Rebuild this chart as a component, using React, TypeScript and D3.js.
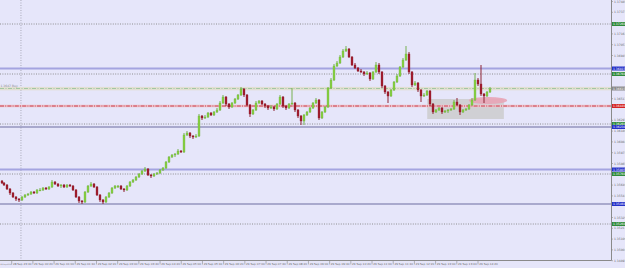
import React from "react";
import * as d3 from "d3";

const W = 625;
const H = 268;

// OHLC (EURUSD M5, 29 Sep 2011)
const opens = [1.3569,1.3567,1.3565,1.3561,1.3557,1.3553,1.3551,1.3550,1.3553,1.3555,
1.3556,1.3558,1.3557,1.3560,1.3560,1.3562,1.3561,1.3563,1.3568,1.3566,
1.3564,1.3565,1.3563,1.3565,1.3564,1.3560,1.3553,1.3549,1.3548,1.3558,
1.3564,1.3566,1.3563,1.3555,1.3550,1.3548,1.3553,1.3557,1.3562,1.3564,
1.3564,1.3561,1.3560,1.3564,1.3568,1.3570,1.3573,1.3576,1.3579,1.3581,
1.3575,1.3574,1.3576,1.3577,1.3580,1.3582,1.3588,1.3593,1.3595,1.3596,
1.3599,1.3598,1.3615,1.3617,1.3614,1.3613,1.3614,1.3634,1.3632,1.3633,
1.3637,1.3635,1.3638,1.3640,1.3647,1.3653,1.3646,1.3643,1.3647,1.3651,
1.3655,1.3661,1.3655,1.3645,1.3636,1.3640,1.3647,1.3649,1.3646,1.3644,
1.3642,1.3643,1.3641,1.3646,1.3653,1.3644,1.3642,1.3646,1.3647,1.3640,
1.3634,1.3629,1.3635,1.3638,1.3642,1.3647,1.3650,1.3632,1.3638,1.3643,
1.3662,1.3670,1.3684,1.3687,1.3693,1.3699,1.3701,1.3693,1.3685,1.3682,
1.3679,1.3678,1.3676,1.3677,1.3671,1.3678,1.3685,1.3678,1.3664,1.3658,
1.3654,1.3660,1.3668,1.3674,1.3683,1.3690,1.3696,1.3678,1.3665,1.3667,
1.3660,1.3654,1.3655,1.3659,1.3646,1.3638,1.3640,1.3642,1.3638,1.3639,
1.3640,1.3641,1.3648,1.3645,1.3638,1.3640,1.3641,1.3645,1.3650,1.3670,
1.3666,1.3656,1.3654,1.3658];

const highs = [1.3570,1.3568,1.3566,1.3562,1.3558,1.3554,1.3552,1.3554,1.3556,1.3557,
1.3559,1.3559,1.3561,1.3562,1.3563,1.3563,1.3564,1.3570,1.3569,1.3567,
1.3566,1.3566,1.3566,1.3566,1.3565,1.3561,1.3554,1.3550,1.3559,1.3565,
1.3568,1.3567,1.3564,1.3556,1.3551,1.3554,1.3558,1.3563,1.3565,1.3565,
1.3565,1.3562,1.3565,1.3569,1.3571,1.3574,1.3577,1.3580,1.3583,1.3582,
1.3576,1.3577,1.3578,1.3581,1.3583,1.3589,1.3594,1.3596,1.3597,1.3601,
1.3600,1.3617,1.3619,1.3618,1.3615,1.3616,1.3636,1.3635,1.3635,1.3638,
1.3638,1.3639,1.3642,1.3649,1.3655,1.3654,1.3647,1.3648,1.3652,1.3656,
1.3663,1.3662,1.3656,1.3646,1.3641,1.3649,1.3650,1.3650,1.3647,1.3645,
1.3645,1.3644,1.3647,1.3655,1.3654,1.3645,1.3647,1.3662,1.3648,1.3641,
1.3635,1.3636,1.3639,1.3643,1.3648,1.3652,1.3651,1.3639,1.3644,1.3663,
1.3672,1.3686,1.3689,1.3695,1.3701,1.3704,1.3702,1.3694,1.3687,1.3683,
1.3681,1.3679,1.3679,1.3678,1.3679,1.3688,1.3687,1.3679,1.3665,1.3659,
1.3661,1.3669,1.3676,1.3684,1.3692,1.3704,1.3698,1.3679,1.3669,1.3668,
1.3661,1.3657,1.3660,1.3660,1.3647,1.3641,1.3643,1.3643,1.3640,1.3641,
1.3642,1.3650,1.3652,1.3646,1.3641,1.3642,1.3646,1.3652,1.3677,1.3672,
1.3685,1.3657,1.3659,1.3663];

const lows = [1.3566,1.3564,1.3560,1.3555,1.3552,1.3549,1.3548,1.3549,1.3552,1.3554,
1.3555,1.3556,1.3556,1.3559,1.3559,1.3560,1.3560,1.3562,1.3565,1.3563,
1.3562,1.3562,1.3562,1.3563,1.3559,1.3552,1.3547,1.3546,1.3547,1.3557,
1.3563,1.3562,1.3554,1.3548,1.3546,1.3547,1.3552,1.3556,1.3561,1.3562,
1.3560,1.3558,1.3559,1.3563,1.3567,1.3569,1.3572,1.3575,1.3578,1.3574,
1.3572,1.3573,1.3575,1.3576,1.3579,1.3581,1.3587,1.3592,1.3593,1.3595,
1.3597,1.3597,1.3614,1.3612,1.3611,1.3612,1.3613,1.3630,1.3631,1.3632,
1.3634,1.3634,1.3637,1.3639,1.3646,1.3644,1.3641,1.3642,1.3646,1.3650,
1.3654,1.3653,1.3644,1.3633,1.3635,1.3639,1.3646,1.3645,1.3642,1.3640,
1.3641,1.3639,1.3640,1.3645,1.3642,1.3640,1.3641,1.3645,1.3638,1.3632,
1.3625,1.3625,1.3634,1.3637,1.3641,1.3646,1.3630,1.3631,1.3637,1.3642,
1.3661,1.3669,1.3683,1.3686,1.3692,1.3698,1.3692,1.3684,1.3681,1.3678,
1.3677,1.3674,1.3675,1.3669,1.3670,1.3677,1.3676,1.3662,1.3656,1.3647,
1.3653,1.3659,1.3667,1.3673,1.3682,1.3689,1.3676,1.3663,1.3664,1.3658,
1.3648,1.3653,1.3654,1.3644,1.3636,1.3637,1.3639,1.3636,1.3637,1.3637,
1.3639,1.3640,1.3644,1.3635,1.3637,1.3639,1.3640,1.3644,1.3649,1.3664,
1.3654,1.3647,1.3653,1.3657];

const closes = [1.3567,1.3565,1.3561,1.3557,1.3553,1.3551,1.3550,1.3553,1.3555,1.3556,
1.3558,1.3557,1.3560,1.3560,1.3562,1.3561,1.3563,1.3568,1.3566,1.3564,
1.3565,1.3563,1.3565,1.3564,1.3560,1.3553,1.3549,1.3548,1.3558,1.3564,
1.3566,1.3563,1.3555,1.3550,1.3548,1.3553,1.3557,1.3562,1.3564,1.3564,
1.3561,1.3560,1.3564,1.3568,1.3570,1.3573,1.3576,1.3579,1.3581,1.3575,
1.3574,1.3576,1.3577,1.3580,1.3582,1.3588,1.3593,1.3595,1.3596,1.3599,
1.3598,1.3615,1.3617,1.3614,1.3613,1.3614,1.3634,1.3632,1.3633,1.3637,
1.3635,1.3638,1.3640,1.3647,1.3653,1.3646,1.3643,1.3647,1.3651,1.3655,
1.3661,1.3655,1.3645,1.3636,1.3640,1.3647,1.3649,1.3646,1.3644,1.3642,
1.3643,1.3641,1.3646,1.3653,1.3644,1.3642,1.3646,1.3647,1.3640,1.3634,
1.3629,1.3635,1.3638,1.3642,1.3647,1.3650,1.3632,1.3638,1.3643,1.3662,
1.3670,1.3684,1.3687,1.3693,1.3699,1.3701,1.3693,1.3685,1.3682,1.3679,
1.3678,1.3676,1.3677,1.3671,1.3678,1.3685,1.3678,1.3664,1.3658,1.3654,
1.3660,1.3668,1.3674,1.3683,1.3690,1.3696,1.3678,1.3665,1.3667,1.3660,
1.3654,1.3655,1.3659,1.3646,1.3638,1.3640,1.3642,1.3638,1.3639,1.3640,
1.3641,1.3648,1.3645,1.3638,1.3640,1.3641,1.3645,1.3650,1.3670,1.3666,
1.3656,1.3654,1.3658,1.3661];

// horizontal levels
const levelPrices = [1.3726, 1.36815, 1.3676, 1.36615, 1.3644, 1.3626, 1.3623, 1.35805, 1.3576, 1.3546, 1.3526];
const levelKinds = ["dot", "blue", "dot", "bid", "red", "dot", "dark", "blue", "dot", "dark", "dot"];

// price axis tick labels
const priceTicks = [1.37485,1.37377,1.37269,1.37161,1.37053,1.36945,1.36837,1.36729,1.36621,1.36513,
1.36405,1.36297,1.36189,1.36081,1.35973,1.35865,1.35757,1.35649,1.35541,1.35433,
1.35325,1.35217,1.35109,1.35001,1.34893];

// time axis labels
const timeLabels = ["28 Sep 23:40","29 Sep 00:20","29 Sep 01:00","29 Sep 01:40","29 Sep 02:20","29 Sep 03:00",
"29 Sep 03:40","29 Sep 04:20","29 Sep 05:00","29 Sep 05:40","29 Sep 06:20","29 Sep 07:00","29 Sep 07:40",
"29 Sep 08:20","29 Sep 09:00","29 Sep 09:40","29 Sep 10:20","29 Sep 11:00","29 Sep 11:40","29 Sep 12:20",
"29 Sep 13:00","29 Sep 13:40","29 Sep 14:20"];
const firstDateLabel = "28 Sep 2011";

// drawn objects (candle index / price)
const boxIdx = [142.2, 167.8];
const boxPrice = [1.3651, 1.3631];
const ellipseIdx = 162.5;
const ellipsePrice = 1.36495;
const separatorIdx = 6.5;

const tagColors: Record<string, string> = { dot: "#2f8a3a", blue: "#2430c8", bid: "#8a8a8a", red: "#d42424", dark: "#2430c8" };

export default function App() {
  const n = closes.length;
  const plotRight = 611.5;
  const plotBottom = 260.5;
  const x = d3.scaleLinear().domain([0, n - 1]).range([1.5, 489.5]);
  const y = d3.scaleLinear().domain([1.3750, 1.3490]).range([0, 260]);
  const tx = d3.scaleLinear().domain([0, timeLabels.length - 1]).range([11.7, 478]);
  const font = "'DejaVu Sans', sans-serif";

  const pxPerIdx = x(1) - x(0);
  const tagYs = levelPrices.map((p) => y(p));
  const visibleTicks = priceTicks.filter((p) => tagYs.every((ty) => Math.abs(ty - y(p)) > 3.6));

  return (
    <svg width={W} height={H} style={{ position: "fixed", left: 0, top: 0 }} xmlns="http://www.w3.org/2000/svg">
      <rect x={0} y={0} width={W} height={H} fill="#e6e6fa" />

      {/* background objects */}
      <rect x={x(boxIdx[0])} y={y(boxPrice[0])} width={x(boxIdx[1]) - x(boxIdx[0])} height={y(boxPrice[1]) - y(boxPrice[0])} fill="#d0d0d4" />
      <ellipse cx={x(ellipseIdx)} cy={y(ellipsePrice)} rx={pxPerIdx * 6.4} ry={3.4} fill="#e8a4b6" opacity={0.9} />

      {/* period separator */}
      <line x1={x(separatorIdx)} x2={x(separatorIdx)} y1={0} y2={plotBottom} stroke="#9a9aa8" strokeWidth={0.8} strokeDasharray="1,1.5" />

      {/* levels */}
      {levelPrices.map((p, i) => {
        const k = levelKinds[i];
        const yy = y(p);
        if (k === "dot") return <line key={i} x1={0} x2={plotRight} y1={yy} y2={yy} stroke="#858585" strokeWidth={0.9} strokeDasharray="1,1.4" />;
        if (k === "blue") return <line key={i} x1={0} x2={plotRight} y1={yy} y2={yy} stroke="#a4a4e0" strokeWidth={2} />;
        if (k === "dark") return <line key={i} x1={0} x2={plotRight} y1={yy} y2={yy} stroke="#6c6ca0" strokeWidth={1.2} />;
        if (k === "bid") return (
          <g key={i}>
            <rect x={0} y={yy - 1.6} width={plotRight} height={3.4} fill="#e2dfd2" />
            <line x1={0} x2={plotRight} y1={yy} y2={yy} stroke="#9cc49c" strokeWidth={0.9} strokeDasharray="4,1.5,1,1.5" />
          </g>
        );
        return (
          <g key={i}>
            <line x1={0} x2={plotRight} y1={yy} y2={yy} stroke="#efc4cc" strokeWidth={2.4} />
            <line x1={0} x2={plotRight} y1={yy} y2={yy} stroke="#c43040" strokeWidth={0.9} strokeDasharray="4,1.2,1,1.2" />
          </g>
        );
      })}

      <text x={0.5} y={y(1.36615) - 2} fontFamily={font} fontSize={3} fill="#8c8c8c">1.3647 Buy</text>

      {/* candles */}
      {closes.map((c, i) => {
        const o = opens[i];
        const up = c >= o;
        const col = up ? "#86cf45" : "#a01e30";
        const cx = Math.round(x(i));
        const top = y(Math.max(o, c));
        const bot = y(Math.min(o, c));
        return (
          <g key={i}>
            <line x1={cx} x2={cx} y1={y(highs[i])} y2={y(lows[i])} stroke={up ? "#76b050" : "#8e2434"} strokeWidth={1} />
            <rect x={cx - 1} y={top} width={2} height={Math.max(1, bot - top)} fill={col} stroke={up ? "#6cae34" : "#8a1626"} strokeWidth={0.3} />
          </g>
        );
      })}

      {/* price axis */}
      <line x1={plotRight} x2={plotRight} y1={0} y2={plotBottom} stroke="#8a8a8a" strokeWidth={1} />
      {visibleTicks.map((p, i) => (
        <g key={i}>
          <line x1={plotRight} x2={plotRight + 1.5} y1={y(p)} y2={y(p)} stroke="#8a8a8a" strokeWidth={0.6} />
          <text x={614} y={y(p) + 1.1} fontFamily={font} fontSize={3} fill="#6a6a6a">{p.toFixed(5)}</text>
        </g>
      ))}
      {levelPrices.map((p, i) => (
        <g key={"t" + i}>
          <rect x={612} y={y(p) - 2} width={13} height={4} fill={tagColors[levelKinds[i]]} />
          <text x={613} y={y(p) + 1.1} fontFamily={font} fontSize={3} fill="#ffffff">{p.toFixed(5)}</text>
        </g>
      ))}

      {/* time axis */}
      <line x1={0} x2={plotRight} y1={plotBottom} y2={plotBottom} stroke="#8a8a8a" strokeWidth={1} />
      <text x={0.3} y={265} fontFamily={font} fontSize={1.8} fill="#6a6a6a">{firstDateLabel}</text>
      {timeLabels.map((t, i) => (
        <g key={i}>
          <line x1={tx(i)} x2={tx(i)} y1={plotBottom} y2={plotBottom + 4} stroke="#8a8a8a" strokeWidth={0.6} />
          <text x={tx(i) + 1.2} y={265} fontFamily={font} fontSize={2.8} fill="#6a6a6a">{t}</text>
        </g>
      ))}
    </svg>
  );
}
